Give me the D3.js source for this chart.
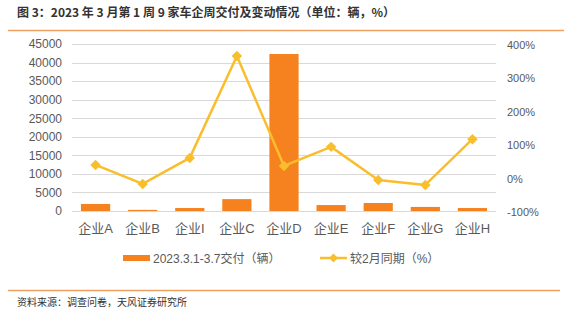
<!DOCTYPE html>
<html>
<head>
<meta charset="utf-8">
<script src="https://cdn.jsdelivr.net/npm/d3@7"></script>
<style>
  body { margin: 0; background: #fff; }
  svg text { font-family: "Liberation Sans", Arial, "Noto Sans CJK SC", sans-serif; }
</style>
</head>
<body>
<svg id="chart" width="564" height="313"></svg>
<script>
// data
var categories = ["企业A", "企业B", "企业I", "企业C", "企业D", "企业E", "企业F", "企业G", "企业H"];
var deliveries = [1900, 300, 800, 3200, 42300, 1600, 2150, 1100, 800];
var momChange = [41, -16, 62, 367, 38, 95, -4, -19, 118];
var leftTicks = [0, 5000, 10000, 15000, 20000, 25000, 30000, 35000, 40000, 45000];
var rightTicks = [-100, 0, 100, 200, 300, 400];

var barColor = "#F5821F",
    lineColor = "#F9BE2C",
    textColor = "#595959",
    gridColor = "#D9D9D9",
    ruleColor = "#F0A060";

var svg = d3.select("#chart");
var margin = { left: 72, right: 68, top: 44, bottom: 102 };
var W = 564, H = 313;

// title + rules
svg.append("text")
    .attr("x", 17).attr("y", 17)
    .attr("font-size", 12).attr("font-weight", "bold").attr("fill", "#333")
    .style("font-family", "'Noto Sans CJK SC', sans-serif")
    .text("图 3：2023 年 3 月第 1 周 9 家车企周交付及变动情况（单位：辆，%）");
svg.append("line").attr("x1", 8).attr("x2", W).attr("y1", 30.5).attr("y2", 30.5)
    .attr("stroke", ruleColor).attr("stroke-width", 1.5);
svg.append("line").attr("x1", 8).attr("x2", 560).attr("y1", 290.5).attr("y2", 290.5)
    .attr("stroke", ruleColor).attr("stroke-width", 1.5);
svg.append("text")
    .attr("x", 17).attr("y", 306)
    .attr("font-size", 10).attr("fill", "#333")
    .style("font-family", "'Noto Sans CJK SC', sans-serif")
    .text("资料来源：调查问卷，天风证券研究所");

var x = d3.scaleBand().domain(categories)
    .range([margin.left, W - margin.right]).paddingInner(0.38).paddingOuter(0.19);
var y = d3.scaleLinear().domain([0, 45000]).range([211, 44]);
var y2 = d3.scaleLinear().domain([-100, 400]).range([212, 45]);

// gridlines
svg.append("g").selectAll("line").data(leftTicks).join("line")
    .attr("x1", margin.left).attr("x2", W - margin.right)
    .attr("y1", function (d) { return Math.round(y(d)) + 0.5; })
    .attr("y2", function (d) { return Math.round(y(d)) + 0.5; })
    .attr("stroke", gridColor).attr("stroke-width", 1);

// left axis
var leftAxis = svg.append("g")
    .attr("transform", "translate(" + margin.left + ",0)")
    .call(d3.axisLeft(y).tickValues(leftTicks).tickSize(0).tickPadding(10).tickFormat(d3.format("d")));
leftAxis.select(".domain").remove();
leftAxis.selectAll("text").attr("font-size", 12).attr("fill", textColor);

// right axis
var rightAxis = svg.append("g")
    .attr("transform", "translate(" + (W - margin.right) + ",0)")
    .call(d3.axisRight(y2).tickValues(rightTicks).tickSize(0).tickPadding(11)
        .tickFormat(function (d) { return d + "%"; }));
rightAxis.select(".domain").remove();
rightAxis.selectAll("text").attr("font-size", 11).attr("fill", textColor);

// bars
svg.append("g").selectAll("rect").data(deliveries).join("rect")
    .attr("x", function (d, i) { return x(categories[i]); })
    .attr("width", x.bandwidth())
    .attr("y", function (d) { return y(d); })
    .attr("height", function (d) { return y(0) - y(d); })
    .attr("fill", barColor);

// line
var cx = function (i) { return x(categories[i]) + x.bandwidth() / 2; };
svg.append("path")
    .datum(momChange)
    .attr("fill", "none").attr("stroke", lineColor).attr("stroke-width", 2.5)
    .attr("stroke-linejoin", "round")
    .attr("d", d3.line().x(function (d, i) { return cx(i); }).y(function (d) { return y2(d); }));
svg.append("g").selectAll("path").data(momChange).join("path")
    .attr("transform", function (d, i) { return "translate(" + cx(i) + "," + y2(d) + ")"; })
    .attr("d", d3.symbol().type(d3.symbolDiamond2).size(70))
    .attr("fill", lineColor);

// x labels
svg.append("g").selectAll("text").data(categories).join("text")
    .attr("x", function (d) { return x(d) + x.bandwidth() / 2; })
    .attr("y", 233)
    .attr("text-anchor", "middle")
    .attr("font-size", 13).attr("fill", textColor)
    .text(function (d) { return d; });

// legend
var lg = svg.append("g").attr("font-size", 12).attr("fill", textColor);
lg.append("rect").attr("x", 123).attr("y", 255).attr("width", 27).attr("height", 6).attr("fill", barColor);
lg.append("text").attr("x", 153).attr("y", 262.5).attr("fill", textColor).text("2023.3.1-3.7交付（辆）");
lg.append("line").attr("x1", 320).attr("x2", 347).attr("y1", 258).attr("y2", 258)
    .attr("stroke", lineColor).attr("stroke-width", 2.5);
lg.append("path").attr("transform", "translate(333.5,258)")
    .attr("d", d3.symbol().type(d3.symbolDiamond2).size(50)).attr("fill", lineColor);
lg.append("text").attr("x", 350).attr("y", 262.5).attr("fill", textColor).text("较2月同期（%）");
</script>
</body>
</html>
